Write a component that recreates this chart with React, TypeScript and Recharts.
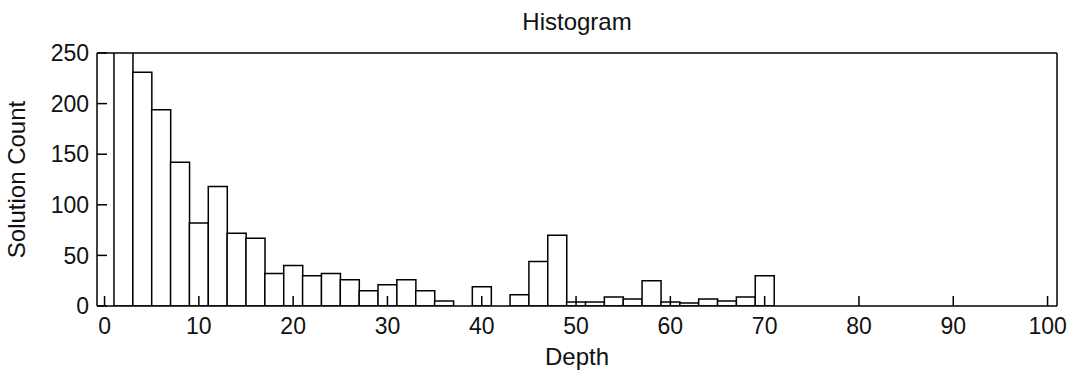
import React from 'react';
import { BarChart, Bar, XAxis, YAxis } from 'recharts';

const binCenters = [0, 2, 4, 6, 8, 10, 12, 14, 16, 18, 20, 22, 24, 26, 28, 30, 32, 34, 36, 38, 40, 42, 44, 46, 48, 50, 52, 54, 56, 58, 60, 62, 64, 66, 68, 70];
const solutionCounts = [0, 300, 231, 194, 142, 82, 118, 72, 67, 32, 40, 30, 32, 26, 15, 21, 26, 15, 5, 0, 19, 0, 11, 44, 70, 4, 4, 9, 7, 25, 4, 3, 7, 5, 9, 30];
const xTicks = [0, 10, 20, 30, 40, 50, 60, 70, 80, 90, 100];
const yTicks = [0, 50, 100, 150, 200, 250];

const data = binCenters.map((depth, i) => ({ depth, count: solutionCounts[i] }));

const FONT = "'Liberation Sans', Arial, sans-serif";
const tickStyle = { fontSize: 23, fill: '#111', fontFamily: FONT };
const lineStyle = { stroke: '#000', strokeWidth: 1.5 };
const labelStyle = { fontSize: 24, fill: '#111', fontFamily: FONT };

export default function App() {
  return (
    <div style={{ position: 'absolute', left: 0, top: 0, width: 1078, height: 376, background: '#fff' }}>
      <BarChart
        width={1078}
        height={376}
        data={data}
        margin={{ top: 52, right: 20, bottom: 0, left: 0 }}
        barCategoryGap={0}
        barGap={0}
      >
        <XAxis
          xAxisId="b"
          type="number"
          dataKey="depth"
          domain={[-0.8, 101]}
          allowDataOverflow
          ticks={xTicks}
          height={70}
          tickSize={-10}
          tickMargin={22}
          tick={tickStyle}
          axisLine={lineStyle}
          tickLine={lineStyle}
          label={{ value: 'Depth', position: 'insideBottom', offset: 11, style: labelStyle }}
        />
        <XAxis
          xAxisId="t"
          orientation="top"
          type="number"
          dataKey="depth"
          domain={[-0.8, 101]}
          allowDataOverflow
          ticks={xTicks}
          height={1}
          tickSize={-10}
          tick={false}
          axisLine={lineStyle}
          tickLine={lineStyle}
          label={{ value: 'Histogram', position: 'top', offset: 22, style: labelStyle }}
        />
        <YAxis
          yAxisId="l"
          type="number"
          domain={[0, 250]}
          allowDataOverflow
          ticks={yTicks}
          width={97}
          tickSize={-10}
          tickMargin={18}
          tick={tickStyle}
          axisLine={lineStyle}
          tickLine={lineStyle}
          label={{ value: 'Solution Count', angle: -90, position: 'insideLeft', offset: 16, style: { ...labelStyle, textAnchor: 'middle' } }}
        />
        <YAxis
          yAxisId="r"
          orientation="right"
          type="number"
          domain={[0, 250]}
          allowDataOverflow
          ticks={yTicks}
          width={1}
          tickSize={-10}
          tick={false}
          axisLine={lineStyle}
          tickLine={lineStyle}
        />
        <Bar
          dataKey="count"
          xAxisId="b"
          yAxisId="l"
          fill="#fff"
          stroke="#000"
          strokeWidth={1.5}
          isAnimationActive={false}
        />
      </BarChart>
    </div>
  );
}
